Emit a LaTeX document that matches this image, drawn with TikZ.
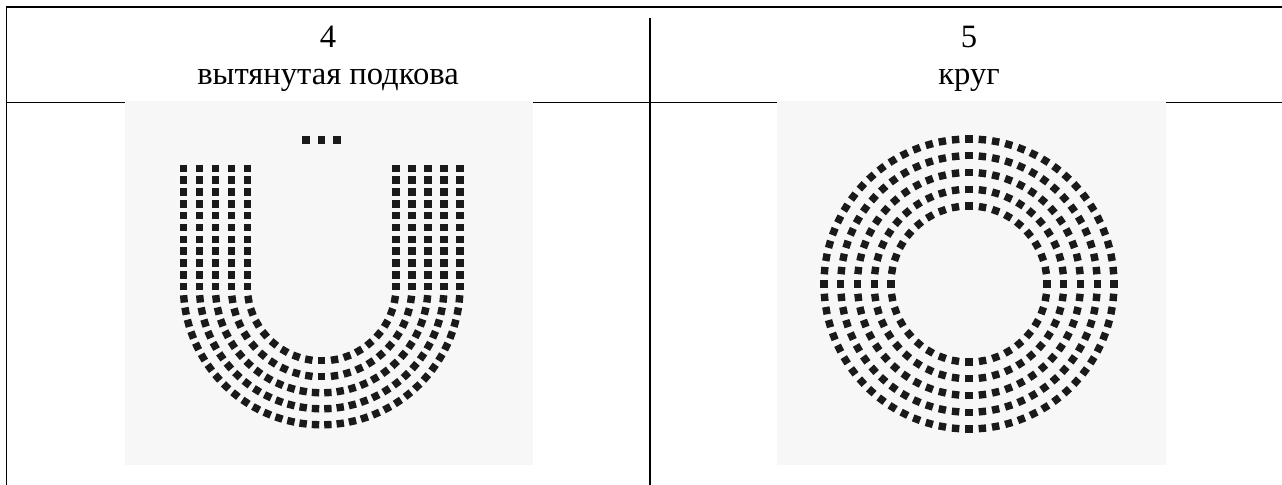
\documentclass[tikz,border=0pt]{standalone}
\usepackage{fontspec}
\setmainfont{Liberation Serif}
\usetikzlibrary{positioning}
\definecolor{photobg}{HTML}{F7F7F7}
\definecolor{seatink}{HTML}{1A1A1A}
\tikzset{
  rule/.style={draw=black, line width=0.75pt},
  headtext/.style={font=\fontsize{16.3}{19}\selectfont, anchor=base, inner sep=0pt},
  photo/.style={fill=photobg, draw=none},
  seat/.style={rectangle, fill=seatink, draw=none, minimum size=3.7pt, inner sep=0pt}
}

\begin{document}
\begin{tikzpicture}[x=0.5pt, y=-0.5pt]
\useasboundingbox (0,0) rectangle (1282,485);
% table rules
\draw[rule] (1282,7) -- (6.5,7) -- (6.5,485);
\draw[rule] (6.5,102.5) -- (1282,102.5);
\draw[rule] (650,18) -- (650,485);
% headers
\node[headtext] (num4) at (328,48) {4};
\node[headtext] (name4) at (328,85) {вытянутая подкова};
\node[headtext] (num5) at (969,48) {5};
\node[headtext] (name5) at (969,85) {круг};
% photos
\fill[photo] (125,101.5) rectangle (533,465.5);
\fill[photo] (777,101.5) rectangle (1166,465.5);
% stretched horseshoe
\coordinate (hc) at (321.7,286.5);
\foreach \x in {306,321.5,337} \node[seat] at (\x,140) {};
\foreach \k/\n in {0/18,1/22,2/27,3/31,4/35} {
  \pgfmathsetmacro\r{74.3+16*\k}
  \pgfmathsetmacro\st{180/\n}
  \pgfmathtruncatemacro\m{\n-1}
  \foreach \j in {0,...,10} {
    \node[seat] at ({321.7-\r},{168.3+11.84*\j}) {};
    \node[seat] at ({321.7+\r},{168.3+11.84*\j}) {};
  }
  \foreach \i in {1,...,\m} {
    \pgfmathsetmacro\a{\i*\st}
    \node[seat, rotate=-\a] at ([shift={(\a:\r)}]hc) {};
  }
}
% circle
\coordinate (cc) at (969,284);
\foreach \k/\n in {0/36,1/44,2/52,3/60,4/68} {
  \pgfmathsetmacro\r{78+16.75*\k}
  \pgfmathsetmacro\st{360/\n}
  \foreach \i in {1,...,\n} {
    \pgfmathsetmacro\a{\i*\st}
    \node[seat, rotate=-\a] at ([shift={(\a:\r)}]cc) {};
  }
}
\end{tikzpicture}
\end{document}
